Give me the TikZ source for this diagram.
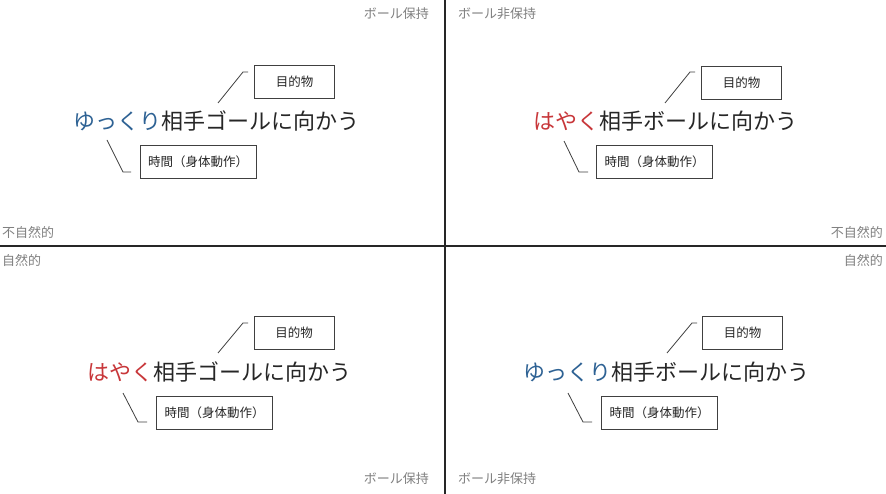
\documentclass[tikz,border=0pt]{standalone}
\usepackage{fontspec}
\newfontfamily\cjk{Noto Sans CJK JP}
\definecolor{slowblue}{HTML}{2E6294}
\definecolor{fastred}{HTML}{C8373A}
\definecolor{maintxt}{HTML}{262626}
\definecolor{axisgray}{HTML}{808080}
\definecolor{linegray}{HTML}{404040}
\tikzset{
  maintext/.style={inner sep=0pt, anchor=west, text=maintxt, font=\cjk\fontsize{22}{26}\selectfont},
  tagbox/.style={draw=linegray, line width=0.9pt, inner sep=0pt, minimum height=33pt, text=maintxt, font=\cjk\fontsize{12.5}{15}\selectfont},
  smallbox/.style={tagbox, minimum width=80pt},
  widebox/.style={tagbox, minimum width=116pt},
  axislabel/.style={inner sep=0pt, text=axisgray, font=\cjk\fontsize{13}{15}\selectfont},
  callout/.style={draw=linegray, line width=0.8pt},
  axisline/.style={draw=black!85, line width=1.1pt}
}
\begin{document}
\begin{tikzpicture}[x=1pt,y=-1pt]
\useasboundingbox[fill=white] (0,0) rectangle (886,494);
% axes
\coordinate (vtop) at (445,0);
\coordinate (vbot) at (445,494);
\coordinate (hl) at (0,246);
\coordinate (hr) at (886,246);
\draw[axisline] (vtop) -- (vbot);
\draw[axisline] (hl) -- (hr);
% axis labels
\node[axislabel, anchor=east] (possT) at (429,14) {ボール保持};
\node[axislabel, anchor=west] (npossT) at (458,14) {ボール非保持};
\node[axislabel, anchor=east] (possB) at (429,479) {ボール保持};
\node[axislabel, anchor=west] (npossB) at (458,479) {ボール非保持};
\node[axislabel, anchor=west] (unnatL) at (2,233) {不自然的};
\node[axislabel, anchor=east] (unnatR) at (883,233) {不自然的};
\node[axislabel, anchor=west] (natL) at (2,261) {自然的};
\node[axislabel, anchor=east] (natR) at (883,261) {自然的};
% top-left
\node[maintext] (mTL) at (73,121) {\textcolor{slowblue}{ゆっくり}相手ゴールに向かう};
\node[smallbox] (gTL) at (294.5,82) {目的物};
\node[widebox] (tTL) at (198,161.5) {時間（身体動作）};
\coordinate (gTLa) at (218,103); \coordinate (gTLb) at (243,72); \coordinate (gTLc) at (248,72);
\coordinate (tTLa) at (107,140); \coordinate (tTLb) at (123,172); \coordinate (tTLc) at (131,172);
\draw[callout] (gTLa) -- (gTLb) -- (gTLc);
\draw[callout] (tTLa) -- (tTLb) -- (tTLc);
% top-right
\node[maintext] (mTR) at (533,121) {\textcolor{fastred}{はやく}相手ボールに向かう};
\node[smallbox] (gTR) at (741.5,82.5) {目的物};
\node[widebox] (tTR) at (654.5,161.5) {時間（身体動作）};
\coordinate (gTRa) at (665,103); \coordinate (gTRb) at (690,72); \coordinate (gTRc) at (695,72);
\coordinate (tTRa) at (564,141); \coordinate (tTRb) at (579,172); \coordinate (tTRc) at (588,172);
\draw[callout] (gTRa) -- (gTRb) -- (gTRc);
\draw[callout] (tTRa) -- (tTRb) -- (tTRc);
% bottom-left
\node[maintext] (mBL) at (87,372) {\textcolor{fastred}{はやく}相手ゴールに向かう};
\node[smallbox] (gBL) at (294,333) {目的物};
\node[widebox] (tBL) at (214.5,413) {時間（身体動作）};
\coordinate (gBLa) at (218,353); \coordinate (gBLb) at (243,323); \coordinate (gBLc) at (248,323);
\coordinate (tBLa) at (123,393); \coordinate (tBLb) at (138,422); \coordinate (tBLc) at (147,422);
\draw[callout] (gBLa) -- (gBLb) -- (gBLc);
\draw[callout] (tBLa) -- (tBLb) -- (tBLc);
% bottom-right
\node[maintext] (mBR) at (523,372) {\textcolor{slowblue}{ゆっくり}相手ボールに向かう};
\node[smallbox] (gBR) at (742.5,332.5) {目的物};
\node[widebox] (tBR) at (659.5,413) {時間（身体動作）};
\coordinate (gBRa) at (667,353); \coordinate (gBRb) at (692,323); \coordinate (gBRc) at (697,323);
\coordinate (tBRa) at (568,393); \coordinate (tBRb) at (583,422); \coordinate (tBRc) at (592,422);
\draw[callout] (gBRa) -- (gBRb) -- (gBRc);
\draw[callout] (tBRa) -- (tBRb) -- (tBRc);
\end{tikzpicture}
\end{document}
